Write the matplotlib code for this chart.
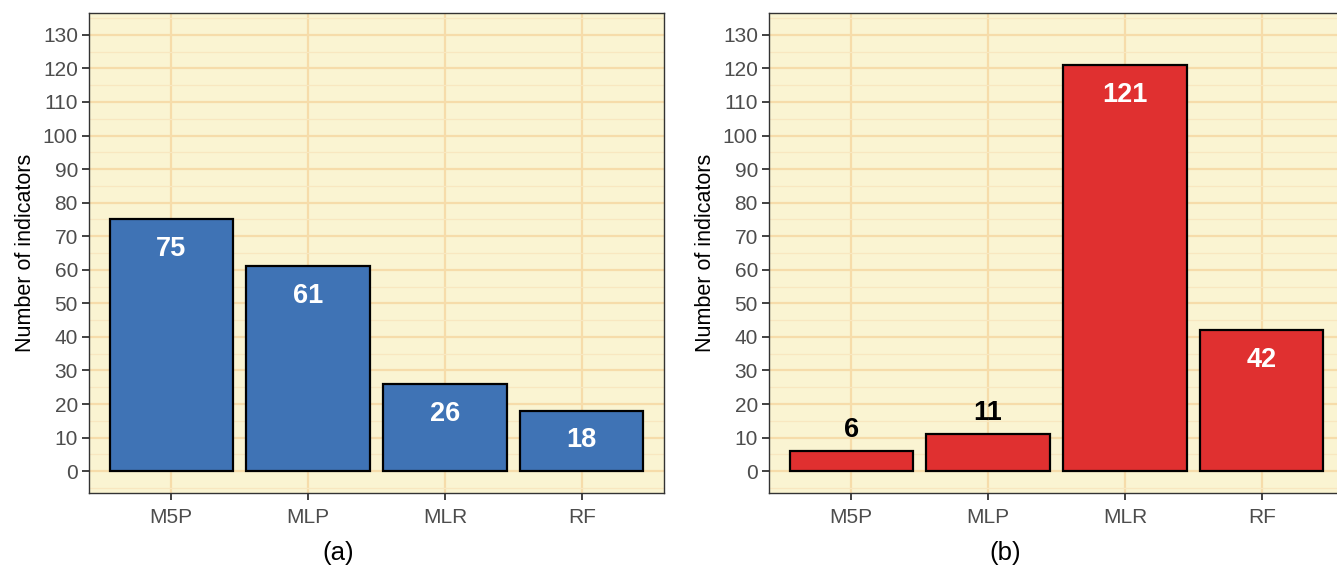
import matplotlib
matplotlib.use("Agg")
import matplotlib.pyplot as plt
from matplotlib.ticker import MultipleLocator

plt.rcParams["font.family"] = ["Liberation Sans", "DejaVu Sans"]

# Data
models = ["M5P", "MLP", "MLR", "RF"]
counts_a = [75, 61, 26, 18]
counts_b = [6, 11, 121, 42]
# label placement: True = inside bar (white), False = above bar (black)
inside_b = [False, False, True, True]
inside_a = [True, True, True, True]

W, H = 1337, 577
fig = plt.figure(figsize=(W / 100, H / 100), dpi=100)

panel_bg = "#FAF4D2"
major_grid = "#F6DCAA"
minor_grid = "#F8E7C0"
axis_grey = "#333333"
tick_text = "#4D4D4D"


def draw_panel(ax, values, inside, color):
    x = list(range(1, len(models) + 1))
    ax.set_facecolor(panel_bg)
    ax.bar(x, values, width=0.9, color=color, edgecolor="black",
           linewidth=1.6, zorder=3)
    ax.set_xlim(0.4, len(models) + 0.6)
    ax.set_ylim(-6.5, 136.5)
    ax.set_xticks(x)
    ax.set_xticklabels(models)
    ax.yaxis.set_major_locator(MultipleLocator(10))
    ax.yaxis.set_minor_locator(MultipleLocator(5))
    ax.grid(which="major", axis="both", color=major_grid, linewidth=1.6, zorder=0)
    ax.grid(which="minor", axis="y", color=minor_grid, linewidth=0.9, zorder=0)
    ax.tick_params(which="major", direction="out", length=5, width=1.3,
                   color=axis_grey, labelcolor=tick_text, labelsize=15, pad=3)
    ax.tick_params(axis="x", which="major", pad=6)
    ax.tick_params(which="minor", length=0)
    for s in ax.spines.values():
        s.set_color(axis_grey)
        s.set_linewidth(1.0)
    ax.set_ylabel("Number of indicators", fontsize=15.5, color="black", labelpad=5)
    for xi, v, ins in zip(x, values, inside):
        if ins:
            ax.annotate(str(v), (xi, v), xytext=(0, -12), textcoords="offset points",
                        ha="center", va="top", fontsize=19.5, fontweight="bold",
                        color="white", zorder=4)
        else:
            ax.annotate(str(v), (xi, v), xytext=(0, 6), textcoords="offset points",
                        ha="center", va="bottom", fontsize=19.5, fontweight="bold",
                        color="black", zorder=4)


bottom = (H - 493) / H
height = 480 / H
ax_a = fig.add_axes([89 / W, bottom, 575 / W, height])
ax_b = fig.add_axes([769 / W, bottom, 575 / W, height])

draw_panel(ax_a, counts_a, inside_a, "#3F73B5")
draw_panel(ax_b, counts_b, inside_b, "#E03030")

fig.text(338 / W, 1 - 553 / H, "(a)", ha="center", va="center", fontsize=18.5)
fig.text(1005 / W, 1 - 553 / H, "(b)", ha="center", va="center", fontsize=18.5)

fig.savefig("out.png", dpi=100, facecolor="white")
